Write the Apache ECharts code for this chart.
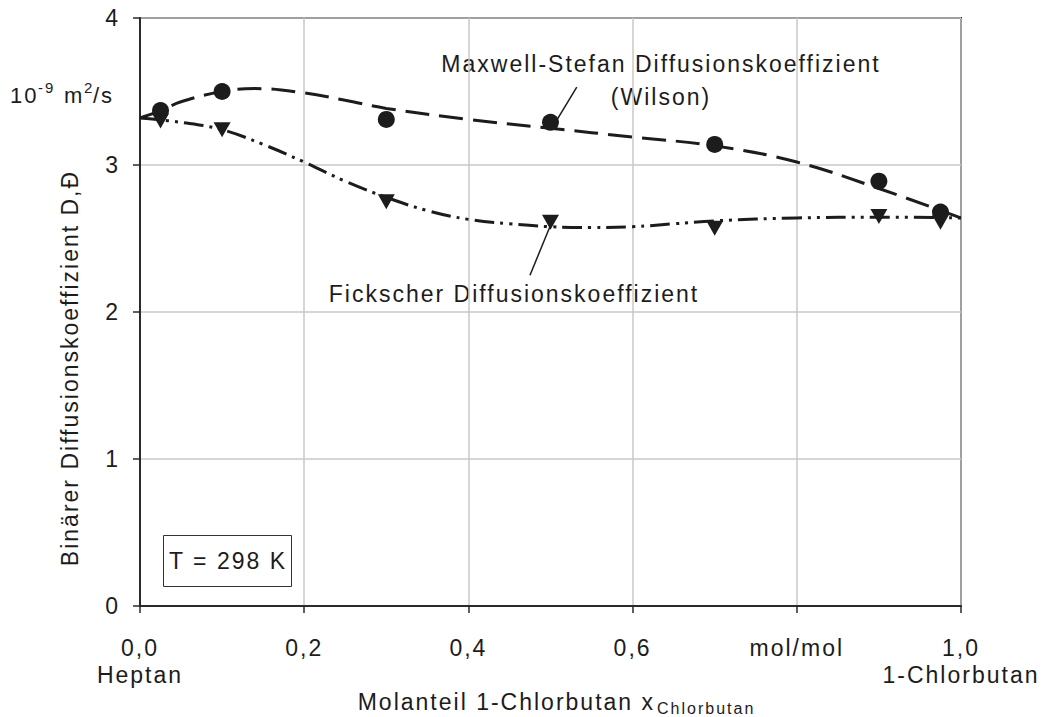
<!DOCTYPE html>
<html>
<head>
<meta charset="utf-8">
<script src="https://cdn.jsdelivr.net/npm/echarts@6/dist/echarts.min.js"></script>
<style>
  html, body { margin: 0; padding: 0; background: #fff; }
  #chart { width: 1046px; height: 717px; letter-spacing: 2px; }
</style>
</head>
<body>
<div id="chart"></div>
<script>
// Measured diffusion coefficients (10^-9 m^2/s) at T = 298 K
const xMeasured = [0.025, 0.1, 0.3, 0.5, 0.7, 0.9, 0.975];
const maxwellStefanPoints = [3.37, 3.50, 3.31, 3.29, 3.14, 2.89, 2.68];
const fickPoints = [3.30, 3.24, 2.75, 2.61, 2.57, 2.65, 2.61];

// Model curves (Maxwell-Stefan via Wilson, Fick)
const msCurveX = [0, 0.025, 0.05, 0.1, 0.14, 0.2, 0.25, 0.3, 0.4, 0.5, 0.6, 0.7, 0.8, 0.9, 1.0];
const msCurveY = [3.32, 3.37, 3.43, 3.50, 3.52, 3.49, 3.44, 3.385, 3.31, 3.25, 3.19, 3.13, 3.02, 2.84, 2.64];
const fickCurveX = [0, 0.05, 0.1, 0.15, 0.2, 0.25, 0.3, 0.35, 0.4, 0.45, 0.5, 0.55, 0.6, 0.65, 0.7, 0.8, 0.9, 1.0];
const fickCurveY = [3.32, 3.29, 3.24, 3.14, 3.02, 2.89, 2.78, 2.69, 2.63, 2.60, 2.58, 2.575, 2.58, 2.60, 2.62, 2.64, 2.645, 2.64];

// Leader lines from the annotation texts to the curves (data coordinates)
const msLeader = [[0.532, 3.53], [0.506, 3.29]];
const fickLeader = [[0.475, 2.25], [0.5, 2.59]];

// Axis tick labels
const xTickValues = [0, 0.2, 0.4, 0.6, 0.8, 1.0];
const xTickLabels = ['0,0\nHeptan', '0,2', '0,4', '0,6', 'mol/mol', '1,0\n1-Chlorbutan'];
const yTickLabels = ['0', '1', '2', '3', '4'];

const ink = '#1c1c1c';
const font = 'Liberation Sans, Arial, Helvetica, sans-serif';
const fs = 23;

const zip = (xs, ys) => xs.map((x, i) => [x, ys[i]]);

const chart = echarts.init(document.getElementById('chart'), null, { renderer: 'svg' });

chart.setOption({
  animation: false,
  backgroundColor: '#fff',
  textStyle: { fontFamily: font, color: ink },
  grid: {
    left: 140, right: 85, top: 18, bottom: 111,
    show: true, borderColor: '#2a2a2a', borderWidth: 2, backgroundColor: 'transparent'
  },
  xAxis: {
    type: 'value', min: 0, max: 1, interval: 0.2,
    axisLine: { show: true, lineStyle: { color: '#2a2a2a', width: 2 } },
    axisTick: { show: true, inside: false, length: 7, lineStyle: { color: '#2a2a2a', width: 1.5 } },
    splitLine: { show: true, lineStyle: { color: '#c8c8c8', width: 1.5 } },
    axisLabel: {
      margin: 28, fontSize: fs, color: ink, lineHeight: 27, fontFamily: font,
      formatter: v => {
        const i = xTickValues.findIndex(t => Math.abs(t - v) < 1e-6);
        return i >= 0 ? xTickLabels[i] : '';
      }
    }
  },
  yAxis: {
    type: 'value', min: 0, max: 4, interval: 1,
    axisLine: { show: true, lineStyle: { color: '#2a2a2a', width: 2 } },
    axisTick: { show: true, inside: false, length: 7, lineStyle: { color: '#2a2a2a', width: 1.5 } },
    splitLine: { show: true, lineStyle: { color: '#c8c8c8', width: 1.5 } },
    axisLabel: {
      margin: 20, fontSize: fs, color: ink, fontFamily: font,
      formatter: v => yTickLabels[Math.round(v)] ?? ''
    }
  },
  series: [
    {
      name: 'Maxwell-Stefan (Wilson)', type: 'line', data: zip(msCurveX, msCurveY),
      smooth: 0.4, showSymbol: false, z: 2,
      lineStyle: { color: ink, width: 3, type: [24, 10] }
    },
    {
      name: 'Fick Modell', type: 'line', data: zip(fickCurveX, fickCurveY),
      smooth: 0.4, showSymbol: false, z: 2,
      lineStyle: { color: ink, width: 3, type: [20, 6, 3, 6, 3, 6] }
    },
    {
      name: 'Maxwell-Stefan Messwerte', type: 'scatter', data: zip(xMeasured, maxwellStefanPoints),
      symbol: 'circle', symbolSize: 17, z: 3,
      itemStyle: { color: ink, opacity: 1 }
    },
    {
      name: 'Fick Messwerte', type: 'scatter', data: zip(xMeasured, fickPoints),
      symbol: 'triangle', symbolSize: [17, 15], symbolRotate: 180, z: 3,
      itemStyle: { color: ink, opacity: 1 }
    },
    {
      name: 'Hinweis MS', type: 'line', data: msLeader, showSymbol: false, z: 4,
      lineStyle: { color: ink, width: 1.5 }
    },
    {
      name: 'Hinweis Fick', type: 'line', data: fickLeader, showSymbol: false, z: 4,
      lineStyle: { color: ink, width: 1.5 }
    }
  ],
  graphic: [
    // unit label 10^-9 m^2/s
    { type: 'text', left: 10, top: 84, style: { text: '10', font: '22px ' + font, fill: ink } },
    { type: 'text', left: 38, top: 80, style: { text: '-9', font: '15px ' + font, fill: ink } },
    { type: 'text', left: 64, top: 84, style: { text: 'm', font: '22px ' + font, fill: ink } },
    { type: 'text', left: 84, top: 80, style: { text: '2', font: '15px ' + font, fill: ink } },
    { type: 'text', left: 93, top: 84, style: { text: '/s', font: '22px ' + font, fill: ink } },
    // y axis title
    {
      type: 'text', x: 70, y: 368, rotation: Math.PI / 2,
      style: { text: 'Binärer Diffusionskoeffizient D,Đ', font: fs + 'px ' + font, fill: ink, align: 'center', verticalAlign: 'middle' }
    },
    // x axis title with subscript
    { type: 'text', x: 655, y: 702, style: { text: 'Molanteil 1-Chlorbutan x', font: fs + 'px ' + font, fill: ink, align: 'right', verticalAlign: 'middle' } },
    { type: 'text', x: 657, y: 708, style: { text: 'Chlorbutan', font: '16px ' + font, fill: ink, align: 'left', verticalAlign: 'middle' } },
    // curve annotations
    { type: 'text', x: 661, y: 64, style: { text: 'Maxwell-Stefan Diffusionskoeffizient', font: fs + 'px ' + font, fill: ink, align: 'center', verticalAlign: 'middle' } },
    { type: 'text', x: 661, y: 97, style: { text: '(Wilson)', font: fs + 'px ' + font, fill: ink, align: 'center', verticalAlign: 'middle' } },
    { type: 'text', x: 514, y: 294, style: { text: 'Fickscher Diffusionskoeffizient', font: fs + 'px ' + font, fill: ink, align: 'center', verticalAlign: 'middle' } },
    // temperature box
    { type: 'rect', shape: { x: 163.5, y: 535.5, width: 128, height: 51 }, style: { fill: '#fff', stroke: '#333', lineWidth: 1 }, z: 10 },
    { type: 'text', x: 228, y: 561, z: 11, style: { text: 'T = 298 K', font: fs + 'px ' + font, fill: ink, align: 'center', verticalAlign: 'middle' } }
  ]
});
</script>
</body>
</html>
